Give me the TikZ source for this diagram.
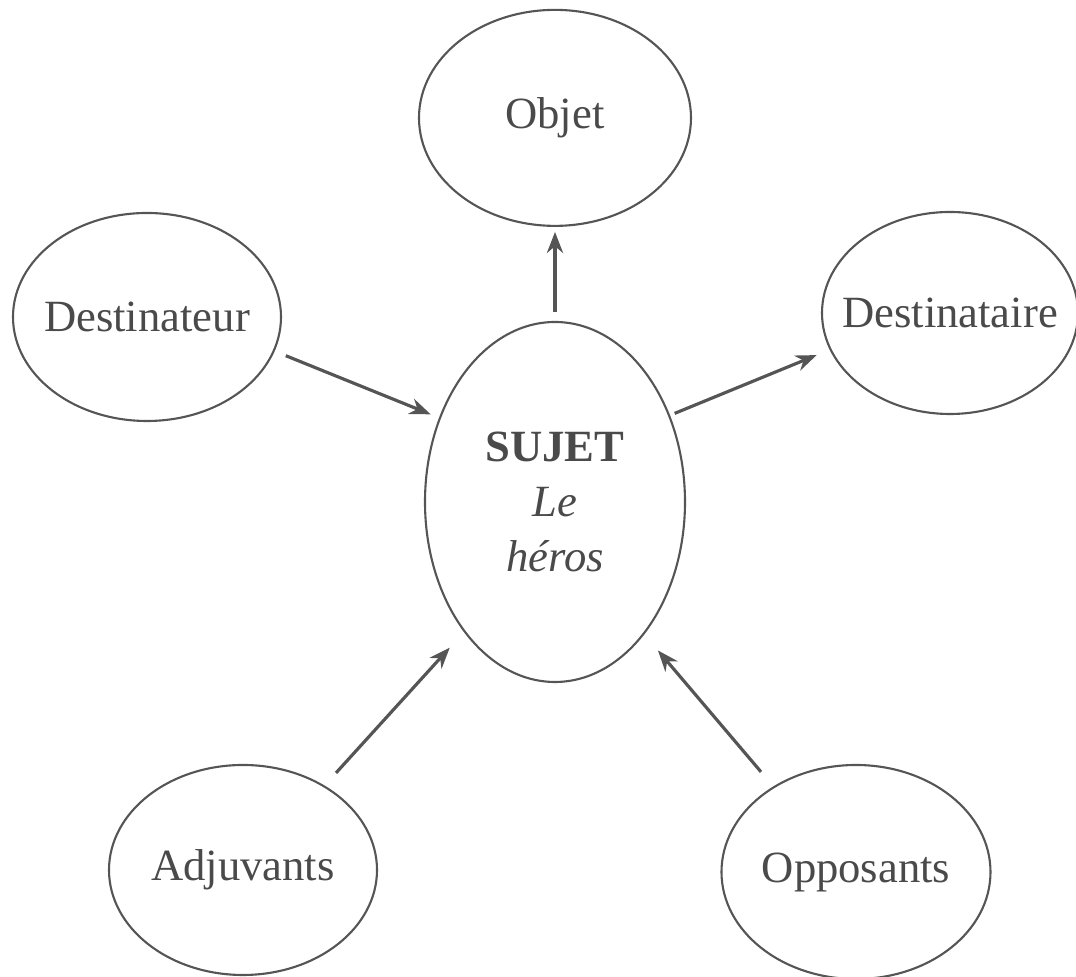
\documentclass[tikz,border=0pt]{standalone}
\usepackage{fontspec}
\setmainfont{Liberation Serif}
\usetikzlibrary{shapes.geometric, positioning, arrows.meta}
\definecolor{inkgray}{HTML}{4A4A4A}
\definecolor{linegray}{HTML}{555555}
\tikzset{
role/.style={ellipse, draw=linegray, line width=0.6pt, inner xsep=-0.2cm, inner ysep=0pt, text=inkgray, font=\fontsize{12.7}{15.6}\selectfont}, % every actant of the model
link/.style={-{Stealth[length=6pt,width=4.6pt]}, draw=linegray, line width=0.9pt}, % the arrows between actants
}
\begin{document}
\begin{tikzpicture}
        \useasboundingbox (0,0) rectangle (10.76,-9.77);
        \node[role, minimum width=2.60cm, minimum height=3.60cm, align=center] (sujet) at (5.55,-5.02) {\textbf{SUJET}\\\textit{Le}\\\textit{héros}};
        \node[role, minimum width=2.72cm, minimum height=2.16cm, above=0.94cm of sujet] (objet) {Objet};
        \node[role, minimum width=2.68cm, minimum height=2.08cm] (destinateur) at (1.47,-3.17) {Destinateur};
        \node[role, minimum width=2.56cm, minimum height=2.02cm] (destinataire) at (9.50,-3.13) {Destinataire};
        \node[role, minimum width=2.68cm, minimum height=2.10cm] (adjuvants) at (2.43,-8.70) {Adjuvants};
        \node[role, minimum width=2.69cm, minimum height=2.14cm] (opposants) at (8.56,-8.72) {Opposants};
        \draw[link, shorten <=0.09cm, shorten >=0.05cm] (sujet.north) -- (objet.south);
        \draw[link, shorten <=0.12cm, shorten >=0.09cm] (destinateur.-15) -- (sujet.144);
        \draw[link, shorten <=0.05cm, shorten >=0.14cm] (sujet.37) -- (destinataire.197);
        \draw[link, shorten <=0.17cm, shorten >=0.21cm] (adjuvants.46) -- (sujet.235);
        \draw[link, shorten <=0.19cm, shorten >=0.21cm] (opposants.134) -- (sujet.-56);
    \end{tikzpicture}
\end{document}
